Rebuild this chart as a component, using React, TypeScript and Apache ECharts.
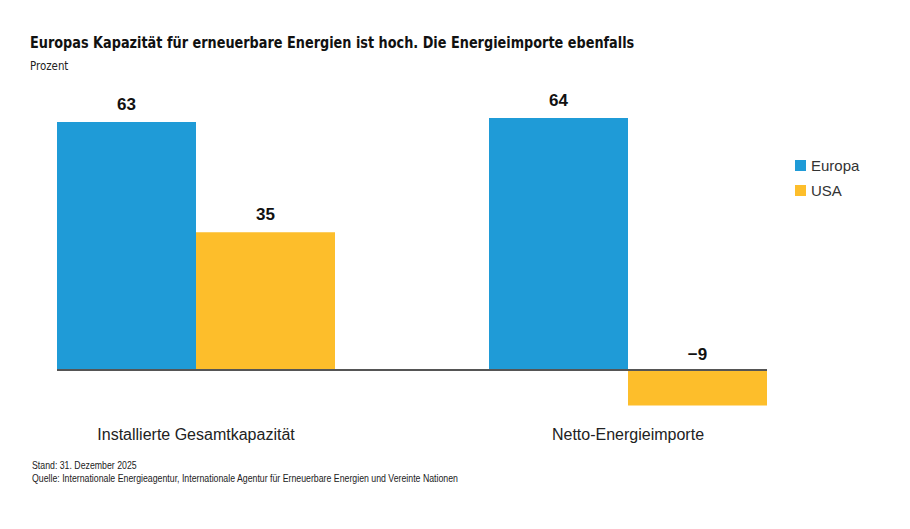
import React, { useEffect, useRef } from "react";
import * as echarts from "echarts";

const categories = ["Installierte Gesamtkapazität", "Netto-Energieimporte"];
const europa = [63, 64];
const usa = [35, -9];
const seriesNames = ["Europa", "USA"];

const titleText = "Europas Kapazität für erneuerbare Energien ist hoch. Die Energieimporte ebenfalls";
const unitText = "Prozent";
const footerLines = [
  "Stand: 31. Dezember 2025",
  "Quelle: Internationale Energieagentur, Internationale Agentur für Erneuerbare Energien und Vereinte Nationen",
];

const BLUE = "#1f9bd7";
const YELLOW = "#fdbe2b";
const BAR_W = 139;
const SANS = "Liberation Sans, Arial, sans-serif";
const COND = "DejaVu Sans Condensed, DejaVu Sans, sans-serif";

export default function App() {
  const ref = useRef<HTMLDivElement>(null);

  useEffect(() => {
    if (!ref.current) return;
    const chart = echarts.init(ref.current, undefined, { renderer: "svg" });

    const valueLabel = {
      show: true,
      position: "top" as const,
      distance: 9,
      fontFamily: SANS,
      fontSize: 17,
      fontWeight: "bold" as const,
      color: "#111",
      formatter: (p: any) => (p.value < 0 ? "\u2212" + Math.abs(p.value) : String(p.value)),
    };

    // negative values get their label just above the zero line
    const toItems = (vals: number[]) =>
      vals.map((v) =>
        v < 0
          ? { value: v, label: { position: "insideBottom" as const, distance: 0, offset: [0, -42] } }
          : { value: v }
      );

    chart.setOption({
      animation: false,
      backgroundColor: "#fff",
      legend: {
        orient: "vertical",
        left: 795,
        top: 158,
        padding: 0,
        icon: "rect",
        itemWidth: 11,
        itemHeight: 11,
        itemGap: 10,
        data: seriesNames,
        textStyle: { fontFamily: SANS, fontSize: 15, color: "#333" },
      },
      grid: {
        left: -20,
        width: 864,
        top: 118,
        height: 287.4,
        containLabel: false,
        outerBoundsMode: "none",
      },
      xAxis: {
        type: "category",
        data: categories,
        axisLine: { show: false, onZero: false },
        axisTick: { show: false },
        axisLabel: { margin: 21, fontFamily: SANS, fontSize: 16, color: "#222" },
      },
      yAxis: {
        type: "value",
        min: -9,
        max: 64,
        show: false,
        splitLine: { show: false },
      },
      series: [
        {
          name: seriesNames[0],
          type: "bar",
          barWidth: BAR_W,
          barGap: "0%",
          itemStyle: { color: BLUE },
          label: valueLabel,
          data: toItems(europa),
        },
        {
          name: seriesNames[1],
          type: "bar",
          barWidth: BAR_W,
          barGap: "0%",
          itemStyle: { color: YELLOW },
          label: valueLabel,
          data: toItems(usa),
        },
      ],
    });

    // zero baseline spanning both bar groups, plus headline and source notes
    const y0 = chart.convertToPixel({ yAxisIndex: 0 }, 0) as number;
    const xa = chart.convertToPixel({ xAxisIndex: 0 }, categories[0]) as number;
    const xb = chart.convertToPixel({ xAxisIndex: 0 }, categories[1]) as number;
    chart.setOption({
      graphic: [
        {
          type: "line",
          z: 10,
          shape: { x1: xa - BAR_W, y1: y0, x2: xb + BAR_W, y2: y0 },
          style: { stroke: "#555", lineWidth: 2 },
        },
        {
          type: "text",
          x: 30,
          y: 42,
          scaleX: 0.953,
          style: {
            text: titleText,
            font: `bold 15px ${COND}`,
            fill: "#111",
            verticalAlign: "middle",
          },
        },
        {
          type: "text",
          x: 30,
          y: 66,
          scaleX: 0.95,
          style: {
            text: unitText,
            font: `12px ${COND}`,
            fill: "#222",
            verticalAlign: "middle",
          },
        },
        ...footerLines.map((t, i) => ({
          type: "text",
          x: 32,
          y: 465 + i * 13,
          scaleX: 0.877,
          style: {
            text: t,
            font: `10px ${SANS}`,
            fill: "#222",
            verticalAlign: "middle",
          },
        })),
      ],
    });

    return () => chart.dispose();
  }, []);

  return (
    <div
      ref={ref}
      style={{ position: "fixed", left: 0, top: 0, width: 910, height: 529 }}
    />
  );
}
